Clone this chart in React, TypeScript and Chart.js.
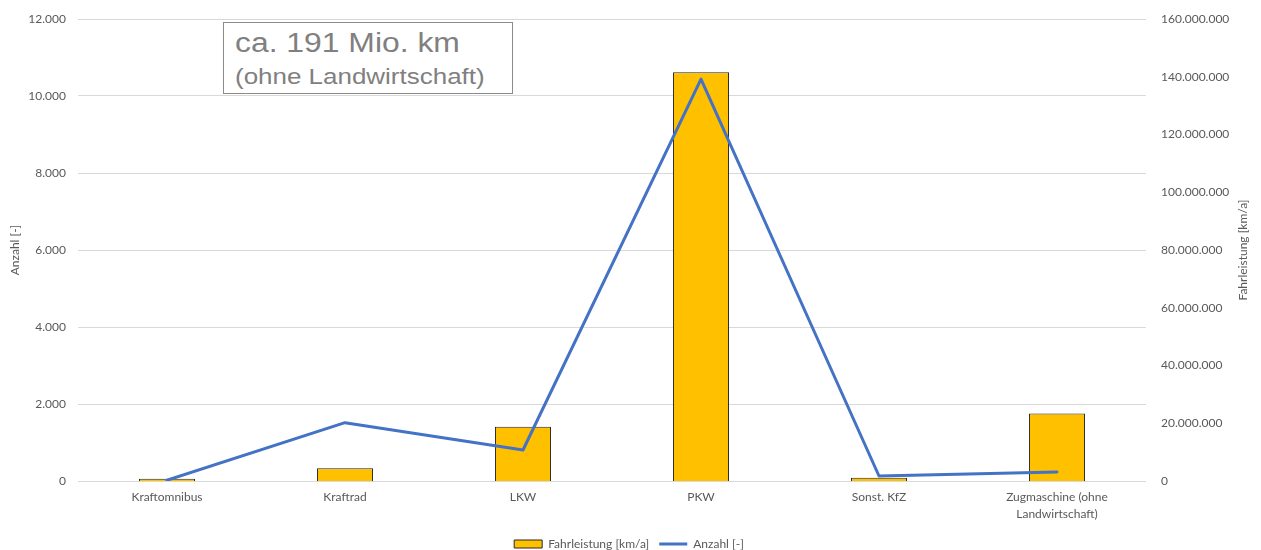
import React, { useEffect, useRef } from 'react';
import { Chart, registerables } from 'chart.js';

Chart.register(...registerables);

const categories: (string | string[])[] = [
  'Kraftomnibus',
  'Kraftrad',
  'LKW',
  'PKW',
  'Sonst. KfZ',
  ['Zugmaschine (ohne', 'Landwirtschaft)'],
];
const fahrleistung = [800000, 4400000, 18800000, 141600000, 1150000, 23400000];
const anzahl = [20, 1515, 805, 10440, 130, 235];

const leftMax = 12000;
const leftStep = 2000;
const rightMax = 160000000;
const rightStep = 20000000;

const seriesBarLabel = 'Fahrleistung [km/a]';
const seriesLineLabel = 'Anzahl [-]';
const leftTitle = 'Anzahl [-]';
const rightTitle = 'Fahrleistung [km/a]';
const noteLine1 = 'ca. 191 Mio. km';
const noteLine2 = '(ohne Landwirtschaft)';

const fmt = (v: number | string) =>
  String(Math.round(Number(v))).replace(/\B(?=(\d{3})+(?!\d))/g, '.');

const TEXT = '#595959';
const FONT = 'Lato, "Open Sans", sans-serif';

const rightTitlePlugin = {
  id: 'rightTitle',
  afterDraw(chart: any) {
    const s = chart.scales.y1;
    if (!s) return;
    const ctx = chart.ctx;
    ctx.save();
    ctx.translate(s.right - 11, (chart.chartArea.top + chart.chartArea.bottom) / 2);
    ctx.rotate(-Math.PI / 2);
    ctx.fillStyle = TEXT;
    ctx.font = `12px ${FONT}`;
    ctx.textAlign = 'center';
    ctx.textBaseline = 'middle';
    ctx.fillText(rightTitle, 0, 0);
    ctx.restore();
  },
};

export default function App() {
  const ref = useRef<HTMLCanvasElement | null>(null);

  useEffect(() => {
    if (!ref.current) return;
    const chart = new Chart(ref.current, {
      type: 'bar',
      data: {
        labels: categories as any,
        datasets: [
          {
            type: 'bar',
            label: seriesBarLabel,
            data: fahrleistung,
            yAxisID: 'y1',
            backgroundColor: '#FFC000',
            borderColor: '#262626',
            borderWidth: 1,
            barPercentage: 0.315,
            categoryPercentage: 1,
            order: 1,
          },
          {
            type: 'line',
            label: seriesLineLabel,
            data: anzahl,
            yAxisID: 'y',
            borderColor: '#4472C4',
            backgroundColor: '#4472C4',
            borderWidth: 3,
            pointRadius: 0,
            pointHoverRadius: 0,
            tension: 0,
            borderJoinStyle: 'round',
            borderCapStyle: 'round',
            order: 0,
          } as any,
        ],
      },
      plugins: [rightTitlePlugin],
      options: {
        animation: false,
        responsive: false,
        layout: { padding: { left: 4, right: 7, top: 19, bottom: -10 } },
        plugins: {
          tooltip: { enabled: false },
          legend: {
            position: 'bottom',
            labels: {
              color: TEXT,
              font: { family: FONT, size: 12 },
              usePointStyle: true,
              pointStyleWidth: 28,
              boxHeight: 8,
              padding: 10,
              sort: (a: any, b: any) => a.datasetIndex - b.datasetIndex,
              generateLabels: (c: any) => {
                const items = (Chart.defaults.plugins.legend.labels as any).generateLabels(c);
                return items.map((it: any) =>
                  it.datasetIndex === 0
                    ? { ...it, pointStyle: 'rect', lineWidth: 1, strokeStyle: '#262626', fillStyle: '#FFC000' }
                    : { ...it, pointStyle: 'line', lineWidth: 3, strokeStyle: '#4472C4', fillStyle: '#4472C4' }
                );
              },
            },
          },
        },
        scales: {
          x: {
            grid: { display: false, drawTicks: false },
            border: { display: false },
            ticks: {
              color: TEXT,
              font: { family: FONT, size: 12, lineHeight: 1.4 },
              padding: 8,
              maxRotation: 0,
              autoSkip: false,
            },
            afterFit: (s: any) => {
              s.height = 47;
            },
          },
          y: {
            position: 'left',
            min: 0,
            max: leftMax,
            ticks: {
              stepSize: leftStep,
              callback: (v: any) => fmt(v),
              color: TEXT,
              font: { family: FONT, size: 12 },
              padding: 12,
            },
            grid: { color: '#d9d9d9', drawTicks: false },
            border: { display: false },
            title: {
              display: true,
              text: leftTitle,
              color: TEXT,
              font: { family: FONT, size: 12 },
              padding: { top: 4, bottom: 4 },
            },
            afterFit: (s: any) => {
              s.width = 74;
              s.paddingTop = 0;
              s.paddingBottom = 0;
            },
          },
          y1: {
            position: 'right',
            min: 0,
            max: rightMax,
            ticks: {
              stepSize: rightStep,
              callback: (v: any) => fmt(v),
              color: TEXT,
              font: { family: FONT, size: 12 },
              padding: 15,
            },
            grid: { display: false, drawTicks: false },
            border: { display: false },
            title: { display: false },
            afterFit: (s: any) => {
              s.width = 108;
              s.paddingTop = 0;
              s.paddingBottom = 0;
            },
          },
        },
      } as any,
    });
    return () => chart.destroy();
  }, []);

  return (
    <div style={{ position: 'fixed', left: 0, top: 0, width: 1261, height: 550, background: '#fff' }}>
      <canvas ref={ref} width={1261} height={550} style={{ display: 'block' }} />
      <div
        style={{
          position: 'absolute',
          left: 223,
          top: 22,
          width: 290,
          height: 72,
          boxSizing: 'border-box',
          border: '1px solid #8c8c8c',
          background: '#fff',
          color: '#808080',
          fontFamily: '"Liberation Sans", Arial, sans-serif',
          overflow: 'hidden',
        }}
      >
        <div
          style={{
            position: 'absolute',
            left: 11,
            top: 7,
            fontSize: 27,
            lineHeight: '27px',
            whiteSpace: 'nowrap',
            transform: 'scaleX(1.18)',
            transformOrigin: 'left top',
          }}
        >
          {noteLine1}
        </div>
        <div
          style={{
            position: 'absolute',
            left: 11,
            top: 43,
            fontSize: 22,
            lineHeight: '22px',
            whiteSpace: 'nowrap',
            transform: 'scaleX(1.18)',
            transformOrigin: 'left top',
          }}
        >
          {noteLine2}
        </div>
      </div>
    </div>
  );
}
